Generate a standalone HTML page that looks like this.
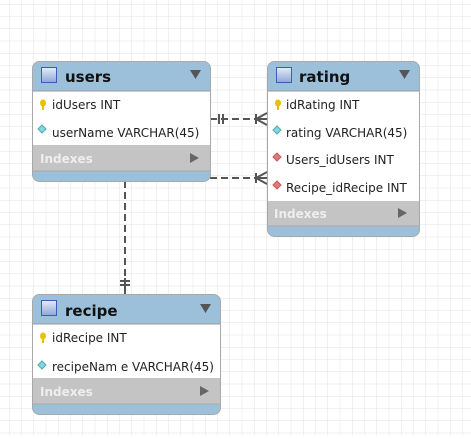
<!DOCTYPE html>
<html><head><style>
body{margin:0;width:471px;height:435px;overflow:hidden;background:#fff;font-family:"DejaVu Sans","Liberation Sans",sans-serif;}
</style></head><body>
<svg width="471" height="435" xmlns="http://www.w3.org/2000/svg">
<defs>
<pattern id="g" x="9" y="4" width="12.25" height="12.25" patternUnits="userSpaceOnUse">
<path d="M0 0V12.25M0 0H12.25" stroke="#e2e2e2" stroke-width="1" fill="none"/>
</pattern>
<linearGradient id="ic" x1="0" y1="0" x2="0" y2="1"><stop offset="0" stop-color="#e6ecf8"/><stop offset="1" stop-color="#8fa6d8"/></linearGradient>
</defs>
<rect width="471" height="435" fill="url(#g)"/>

<g stroke="#555" stroke-width="2" fill="none">
<path d="M210 119H267" stroke-dasharray="7,4"/>
<path d="M219 114v10M223 114v10M256 114v10M256 119L267 113M256 119L267 125M256 119H267"/>
<path d="M210 178H267" stroke-dasharray="7,4"/>
<path d="M256 173v10M256 178L267 172M256 178L267 184M256 178H267"/>
<path d="M125 181V294" stroke-dasharray="7,4"/>
<path d="M120 281h10M120 285h10M125 278V294"/>
</g>

<!-- users -->
<g>
<rect x="32.5" y="61.5" width="178" height="120" rx="7" fill="#9cc0da" stroke="#a8a8a8"/>
<rect x="33" y="91" width="177" height="54" fill="#fff"/>
<rect x="33" y="145" width="177" height="26" fill="#c4c4c4"/>
<line x1="33" y1="91" x2="210" y2="91" stroke="#999"/>
<line x1="33" y1="171" x2="210" y2="171" stroke="#aaa"/>
<rect x="41.5" y="67.5" width="15" height="15" fill="url(#ic)" stroke="#3a5bc0"/>
<text x="65" y="82" font-size="15" font-weight="bold" fill="#111">users</text>
<path d="M190 70h11l-5.5 9z" fill="#555"/>
<ellipse cx="43" cy="103" rx="3" ry="3.5" fill="#e8c000"/><rect x="42" y="104" width="2" height="6" fill="#e8c000"/>
<text x="52" y="109" font-size="12" fill="#222">idUsers INT</text>
<path d="M42 125l4 4-4 4-4-4z" fill="#7fd8e0" stroke="#5aa"/>
<text x="52" y="137" font-size="12" fill="#222">userName VARCHAR(45)</text>
<text x="40" y="163" font-size="12" font-weight="bold" fill="#eee">Indexes</text>
<path d="M190 153v10l9-5z" fill="#666"/>
</g>

<!-- rating -->
<g>
<rect x="267.5" y="61.5" width="152" height="175" rx="7" fill="#9cc0da" stroke="#a8a8a8"/>
<rect x="268" y="91" width="151" height="110" fill="#fff"/>
<rect x="268" y="201" width="151" height="25" fill="#c4c4c4"/>
<line x1="268" y1="91" x2="419" y2="91" stroke="#999"/>
<line x1="268" y1="226" x2="419" y2="226" stroke="#aaa"/>
<rect x="276.5" y="67.5" width="15" height="15" fill="url(#ic)" stroke="#3a5bc0"/>
<text x="299" y="82" font-size="15" font-weight="bold" fill="#111">rating</text>
<path d="M399 70h11l-5.5 9z" fill="#555"/>
<ellipse cx="278" cy="103" rx="3" ry="3.5" fill="#e8c000"/><rect x="277" y="104" width="2" height="6" fill="#e8c000"/>
<text x="286" y="109" font-size="12" fill="#222">idRating INT</text>
<path d="M277 126l4 4-4 4-4-4z" fill="#7fd8e0" stroke="#5aa"/>
<text x="286" y="137" font-size="12" fill="#222">rating VARCHAR(45)</text>
<path d="M277 153l4 4-4 4-4-4z" fill="#e07a78" stroke="#c55"/>
<text x="286" y="164" font-size="12" fill="#222">Users_idUsers INT</text>
<path d="M277 181l4 4-4 4-4-4z" fill="#e07a78" stroke="#c55"/>
<text x="286" y="192" font-size="12" fill="#222">Recipe_idRecipe INT</text>
<text x="274" y="218" font-size="12" font-weight="bold" fill="#eee">Indexes</text>
<path d="M398 208v10l9-5z" fill="#666"/>
</g>

<!-- recipe -->
<g>
<rect x="32.5" y="294.5" width="188" height="120" rx="7" fill="#9cc0da" stroke="#a8a8a8"/>
<rect x="33" y="324" width="187" height="54" fill="#fff"/>
<rect x="33" y="378" width="187" height="26" fill="#c4c4c4"/>
<line x1="33" y1="324" x2="220" y2="324" stroke="#999"/>
<line x1="33" y1="404" x2="220" y2="404" stroke="#aaa"/>
<rect x="41.5" y="300.5" width="15" height="15" fill="url(#ic)" stroke="#3a5bc0"/>
<text x="65" y="316" font-size="15" font-weight="bold" fill="#111">recipe</text>
<path d="M200 304h11l-5.5 9z" fill="#555"/>
<ellipse cx="43" cy="336" rx="3" ry="3.5" fill="#e8c000"/><rect x="42" y="337" width="2" height="6" fill="#e8c000"/>
<text x="52" y="342" font-size="12" fill="#222">idRecipe INT</text>
<path d="M42 361l4 4-4 4-4-4z" fill="#7fd8e0" stroke="#5aa"/>
<text x="52" y="371" font-size="12" fill="#222">recipeNam e VARCHAR(45)</text>
<text x="40" y="396" font-size="12" font-weight="bold" fill="#eee">Indexes</text>
<path d="M200 386v10l9-5z" fill="#666"/>
</g>
</svg>
</body></html>
